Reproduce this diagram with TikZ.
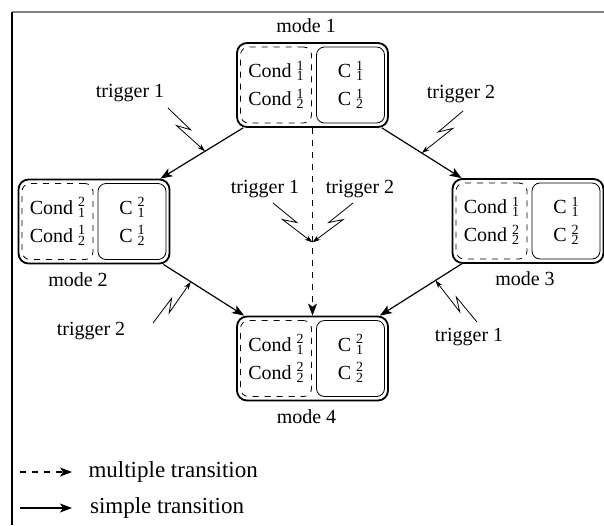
\documentclass[tikz,border=0pt]{standalone}
\usepackage{fontspec}
\setmainfont{Liberation Serif}
\usetikzlibrary{positioning,calc,arrows.meta}
\tikzstyle{modebox}=[draw, rounded corners=5pt, line width=0.9pt, minimum width=75.5pt, minimum height=42pt]
\tikzstyle{conds}=[draw, dashed, rounded corners=4pt, minimum width=35.5pt, minimum height=38pt,
        align=center, font=\fontsize{10}{14}\selectfont]
\tikzstyle{ctrls}=[conds, solid, minimum width=34pt]
\tikzstyle{trans}=[-{Stealth[length=6pt,width=4.5pt,inset=1.5pt]}, semithick]
\tikzstyle{multi}=[trans, dashed]
\tikzstyle{zap}=[-{Stealth[length=4pt,width=2.6pt]}, thin]
\tikzstyle{legend}=[right, font=\fontsize{11.5}{14}\selectfont]
\newcommand{\ud}[2]{\makebox[0pt][l]{\raisebox{3.6pt}{\scriptsize #1}}\raisebox{-1.6pt}{\scriptsize #2}}
\newcommand{\zap}[3]{\draw[zap] (#1) -- ($(#1)!0.55!(#2)!#3*1.5pt!90:(#2)$)
        -- ($(#1)!0.33!(#2)!#3*2.5pt!-90:(#2)$) -- (#2);}

\begin{document}
\begin{tikzpicture}[x=0.5pt,y=-0.5pt]
        \useasboundingbox (0,0) rectangle (604,525);
        \draw[gray, line width=0.8pt] (12,12) -- (604,12);
        \draw[line width=0.8pt] (12,12) -- (12,525);
        % modes
        \node (m1) [modebox] at (312.5,85) {};
        \node (m1c) [conds, anchor=west] at ([xshift=2pt]m1.west) {Cond \ud{1}{1}\\Cond \ud{1}{2}};
        \node (m1k) [ctrls, anchor=east] at ([xshift=-2pt]m1.east) {C \ud{1}{1}\\C \ud{1}{2}};
        \node [above=1pt of m1, xshift=-3.2pt] {mode 1};
        \node (m2) [modebox] at (94,221.5) {};
        \node (m2c) [conds, anchor=west] at ([xshift=2pt]m2.west) {Cond \ud{2}{1}\\Cond \ud{1}{2}};
        \node (m2k) [ctrls, anchor=east] at ([xshift=-2pt]m2.east) {C \ud{2}{1}\\C \ud{1}{2}};
        \node [below=0.5pt of m2, xshift=-8pt] {mode 2};
        \node (m3) [modebox] at (528,221) {};
        \node (m3c) [conds, anchor=west] at ([xshift=2pt]m3.west) {Cond \ud{1}{1}\\Cond \ud{2}{2}};
        \node (m3k) [ctrls, anchor=east] at ([xshift=-2pt]m3.east) {C \ud{1}{1}\\C \ud{2}{2}};
        \node [below=0.5pt of m3, xshift=-1.5pt] {mode 3};
        \node (m4) [modebox] at (312.5,358.5) {};
        \node (m4c) [conds, anchor=west] at ([xshift=2pt]m4.west) {Cond \ud{2}{1}\\Cond \ud{2}{2}};
        \node (m4k) [ctrls, anchor=east] at ([xshift=-2pt]m4.east) {C \ud{2}{1}\\C \ud{2}{2}};
        \node [below=0.5pt of m4, xshift=-3pt] {mode 4};
        % transitions
        \draw[trans] ([xshift=3.5pt]m1.south west) -- coordinate[pos=0.46] (t12) ([xshift=-5pt]m2.north east);
        \draw[trans] ([xshift=-3.5pt]m1.south east) -- coordinate[pos=0.5] (t13) ([xshift=5pt]m3.north west);
        \draw[trans] ([xshift=-3.5pt]m2.south east) -- coordinate[pos=0.34] (t24) ([xshift=4pt]m4.north west);
        \draw[trans] ([xshift=5pt]m3.south west) -- coordinate[pos=0.32] (t34) ([xshift=-4.5pt]m4.north east);
        \draw[multi] (m1.south) -- coordinate[pos=0.61] (t14) (m4.north);
        % triggers
        \node (g12) at (130,93) {trigger 1};
        \node (g13) at (461,94) {trigger 2};
        \node (g14a) at (265,189) {trigger 1};
        \node (g14b) at (360,189) {trigger 2};
        \node (g24) at (91,331) {trigger 2};
        \node (g34) at (469,337) {trigger 1};
        \coordinate (s12) at (168,108);
        \coordinate (s13) at (463,111);
        \coordinate (s14a) at (273,203);
        \coordinate (s14b) at (353,203);
        \coordinate (s24) at (153,323);
        \coordinate (s34) at (477,322);
        \zap{s12}{t12}{1}
        \zap{s13}{t13}{-1}
        \zap{s14a}{t14}{1}
        \zap{s14b}{t14}{-1}
        \zap{s24}{t24}{1}
        \zap{s34}{t34}{-1}
        % legend
        \node (lgm) [legend] at (81.5,472) {multiple transition};
        \node (lgs) [legend] at (83,508) {simple transition};
        \draw[multi] ([xshift=-30.75pt]lgm.west) -- ([xshift=-4.75pt]lgm.west);
        \draw[trans] ([xshift=-31.5pt]lgs.west) -- ([xshift=-5.5pt]lgs.west);
\end{tikzpicture}
\end{document}
